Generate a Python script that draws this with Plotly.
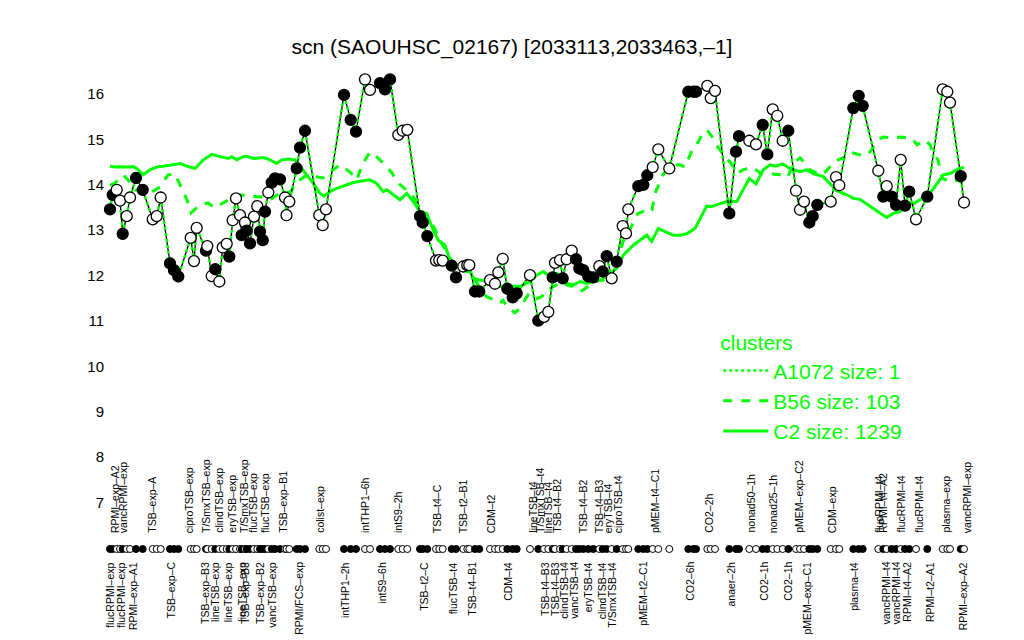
import plotly.graph_objects as go

# ---------------- data ----------------
title_text = "scn (SAOUHSC_02167) [2033113,2033463,–1]"

sample_pos = [10, 12.7, 16.7, 20, 22.7, 26.7, 30, 36, 42.7, 52.7, 56.7, 60.7, 70, 74, 78.3,
              90.7, 94, 96.7, 106, 107.3, 111.7, 115.3, 119.3, 122.7, 126.7, 129.3, 132.7, 136,
              140, 141.7, 145, 146.7, 150, 154, 157.3, 160, 162.7, 165, 168.3, 171.7, 175, 180,
              185, 186.5, 189.3, 196.7, 200, 205, 219.3, 222.7, 226, 244, 250.7, 256, 265, 270,
              280, 285, 290, 298.3, 302.7, 307.3, 320, 322.7, 327.3, 336, 339.3, 342.7, 351.7,
              356, 363.3, 367.3, 369.3, 375, 379.3, 390, 395, 398.3, 402.7, 407.3, 412.7, 416.7,
              430, 438.3, 444, 448.3, 452.7, 455, 460, 462.7, 466.7, 471.7, 476, 479.3, 483.3,
              488.3, 493.3, 499.3, 502.7, 506.7, 511.7, 516.7, 522.7, 526, 528.3, 538.3, 543.3,
              547.3, 552.7, 558.3, 569.3, 588.3, 593.3, 596, 607.3, 610.7, 615, 629.3, 636, 639,
              649.3, 656, 662.7, 667.3, 672.7, 677.3, 682.7, 688.3, 696, 700, 704, 709.3, 712.7,
              717.3, 730.7, 736, 739.3, 753.3, 758.7, 762.7, 778.3, 783.3, 786.7, 791.7, 796,
              800.7, 805, 809.3, 816, 827.3, 842.7, 847.3, 850, 860.7, 864]

expr = [13.46, 13.78, 13.89, 13.65, 12.92, 13.31, 13.72, 14.15, 13.89, 13.24, 13.31, 13.72,
        12.27, 12.12, 11.98, 12.83, 12.32, 13.05, 12.55, 12.65, 11.99, 12.14, 11.87, 12.62,
        12.70, 12.42, 13.22, 13.70, 13.33, 12.89, 13.17, 12.99, 12.71, 13.30, 13.53, 12.97,
        12.78, 13.41, 13.83, 14.05, 14.14, 14.12, 13.72, 13.33, 13.63, 14.36, 14.82, 15.19,
        13.33, 13.11, 13.46, 15.98, 15.43, 15.17, 16.32, 16.09, 16.24, 16.10, 16.32, 15.10,
        15.19, 15.21, 13.31, 13.17, 12.87, 12.33, 12.34, 12.33, 12.22, 11.96, 12.20, 12.23,
        12.23, 11.65, 11.65, 11.90, 11.82, 12.07, 12.37, 11.71, 11.52, 11.61, 12.01, 11.01,
        11.09, 11.20, 11.96, 12.28, 12.34, 11.94, 12.36, 12.55, 12.36, 12.16, 12.12, 11.98,
        11.96, 12.21, 12.09, 12.43, 11.94, 12.31, 13.09, 12.93, 13.46, 13.97, 14.00, 14.21,
        14.39, 14.78, 14.36, 16.05, 16.05, 16.05, 16.18, 15.91, 16.07, 13.37, 14.73, 15.07,
        14.97, 14.89, 15.32, 14.67, 15.66, 15.52, 14.97, 15.19, 13.87, 13.45, 13.63, 13.17,
        13.31, 13.56, 13.63, 14.17, 13.99, 15.69, 15.96, 15.74, 14.31, 13.74, 13.97, 13.74,
        13.56, 14.55, 13.54, 13.85, 13.24, 13.74, 16.10, 16.05, 15.81, 14.19, 13.61]

filled = [1, 1, 0, 0, 1, 0, 0, 1, 1, 0, 0, 0, 1, 1, 1, 0, 0, 0, 1, 0, 0, 1, 0, 0, 0, 1, 0, 0,
          0, 1, 0, 1, 1, 0, 0, 1, 1, 1, 0, 1, 1, 1, 0, 0, 0, 1, 1, 1, 0, 0, 0, 1, 1, 1, 0, 0,
          1, 1, 1, 0, 0, 0, 1, 1, 1, 0, 0, 0, 1, 1, 0, 0, 0, 1, 1, 0, 0, 0, 0, 1, 1, 1, 0, 1,
          0, 0, 1, 0, 0, 1, 0, 0, 1, 1, 1, 1, 1, 0, 1, 1, 0, 1, 0, 0, 0, 1, 1, 1, 0, 0, 0, 1,
          1, 1, 0, 0, 0, 1, 1, 1, 0, 0, 1, 1, 0, 0, 0, 1, 0, 0, 0, 1, 1, 1, 0, 0, 0, 1, 1, 1,
          0, 1, 0, 1, 1, 0, 1, 1, 0, 1, 0, 0, 0, 1, 0]

c2_pos = [10, 15, 20, 26.7, 33.3, 36.7, 43.3, 50, 53.3, 58.3, 63.3, 70, 80, 86.7, 95, 103.3,
          111.7, 120, 128.3, 131.7, 136.7, 143.3, 146.7, 153.3, 163.3, 170, 176.7, 181.7,
          188.3, 195, 200, 206.7, 213.3, 220, 224, 230, 236.7, 246.7, 253.3, 263.3, 270,
          276.7, 283.3, 286.7, 293.3, 300, 306.7, 313.3, 320, 326.7, 333.3, 338.3, 345, 350,
          355, 368.3, 373.3, 380, 390, 400, 411.7, 420, 430, 436.7, 443.3, 450, 456.7, 462.7,
          466.7, 473.3, 480, 486.7, 493.3, 500, 510, 516.7, 523.3, 533.3, 540, 546.7, 551.7,
          558.3, 565, 573.3, 580, 586.7, 595, 606.7, 611.7, 626.7, 636.7, 649.3, 656, 663.3,
          670, 676, 682.7, 690, 700, 706.7, 714, 723.3, 736.7, 746.7, 753.3, 760, 773.3,
          786.7, 793.3, 800, 806.7, 813.3, 820, 830, 843.3, 850, 856.7, 864]
c2_val = [14.41, 14.39, 14.40, 14.39, 14.40, 14.36, 14.22, 14.33, 14.36, 14.40, 14.41, 14.44,
          14.47, 14.41, 14.36, 14.55, 14.67, 14.62, 14.58, 14.62, 14.55, 14.62, 14.63, 14.58,
          14.60, 14.55, 14.47, 14.55, 14.57, 14.55, 14.40, 14.22, 14.03, 13.81, 13.75, 13.85,
          13.92, 14.00, 14.05, 14.09, 14.11, 14.03, 13.85, 13.89, 13.78, 13.67, 13.81, 13.63,
          13.41, 13.37, 13.00, 12.78, 12.67, 12.34, 12.21, 12.20, 11.94, 11.90, 11.90, 11.76,
          11.77, 11.76, 11.87, 12.01, 12.09, 11.98, 12.05, 11.98, 11.83, 11.79, 11.87, 11.83,
          11.87, 11.90, 12.05, 12.16, 12.45, 12.67, 12.78, 12.89, 12.75, 13.04, 12.97, 12.89,
          12.89, 12.92, 13.04, 13.53, 13.52, 13.63, 13.63, 14.14, 14.02, 14.33, 14.44, 14.41,
          14.46, 14.36, 14.29, 14.33, 14.24, 14.18, 13.87, 13.78, 13.70, 13.68, 13.48, 13.28,
          13.37, 13.41, 13.59, 13.58, 13.67, 13.81, 14.22, 14.25, 14.33, 14.39]

b56_pos = [10, 15, 23, 28, 35, 50, 60, 68, 75, 80, 87, 91, 100, 108, 115, 123, 133, 140, 150,
           163, 170, 180, 190, 200, 205, 213, 223, 233, 240, 250, 257, 262, 270, 277, 285, 292,
           298, 303, 312, 325, 333, 340, 350, 360, 370, 383, 387, 395, 400, 403, 407, 415, 418,
           428, 433, 442, 445, 462, 467, 473, 480, 483, 493, 500, 503, 507, 513, 517, 523, 527,
           538, 543, 548, 552, 555, 558, 563, 567, 577, 580, 585, 593, 598, 602, 607, 613, 618,
           625, 630, 638, 643, 653, 660, 683, 688, 693, 700, 705, 710, 718, 723, 733, 738, 745,
           750, 760, 768, 778, 783, 793, 800, 812, 817, 825, 830, 833, 838, 842, 850, 853, 858,
           864]
b56_val = [13.99, 14.04, 14.22, 14.11, 13.89, 13.82, 13.95, 14.22, 14.24, 13.99, 13.67, 13.38,
           13.56, 13.60, 13.49, 13.60, 13.73, 13.78, 13.75, 13.73, 13.67, 13.82, 13.84, 14.11,
           14.19, 14.19, 14.15, 14.33, 14.44, 14.28, 14.11, 14.44, 14.72, 14.61, 14.44, 14.26,
           14.04, 13.95, 13.78, 13.33, 13.11, 12.78, 12.39, 12.12, 12.08, 11.62, 11.53, 11.46,
           11.39, 11.46, 11.31, 11.18, 11.24, 11.57, 11.46, 11.54, 11.65, 11.87, 11.79, 11.76,
           11.65, 11.68, 11.84, 11.90, 11.90, 11.79, 12.16, 12.27, 12.75, 12.89, 13.37, 13.41,
           13.37, 13.44, 13.81, 13.96, 14.22, 14.33, 14.44, 14.44, 14.39, 14.81, 14.94, 15.10,
           15.21, 15.03, 14.83, 14.61, 14.50, 14.26, 14.33, 14.39, 14.26, 14.22, 14.17, 14.48,
           14.59, 14.48, 14.33, 14.25, 14.22, 14.48, 14.55, 14.61, 14.72, 14.66, 14.66, 14.99,
           15.05, 15.03, 15.05, 15.03, 14.88, 14.99, 14.88, 14.70, 14.55, 14.15, 14.06, 14.06,
           14.11, 14.00]

top_label_pos = [15, 22.7, 51.7, 89.3, 106, 118.3, 131.7, 144, 152.7, 165, 182.7, 219.3, 265,
                 298, 336.7, 363.3, 390.7, 432.7, 440, 448.3, 456.7, 483.3, 499.3, 508.3,
                 518.3, 555, 608.3, 650, 672.7, 698.3, 731.7, 778.3, 782.7, 800, 818.3, 845,
                 866.7]
top_labels = ["RPMI–exp–A2", "vancRPMI–exp", "TSB–exp–A", "ciproTSB–exp", "T/SmxTSB–exp",
              "clindTSB–exp", "eryTSB–exp", "T/SmxTSB–exp", "flucTSB–exp", "flucTSB–exp",
              "TSB–exp–B1", "colist–exp", "intTHP1–6h", "intS9–2h", "TSB–t4–C", "TSB–t2–B1",
              "CDM–t2", "lineTSB–t4", "T/SmxTSB–t4", "lineTSB–t4", "TSB–t4–B2", "TSB–t4–B2",
              "TSB–t4–B3", "eryTSB–t4", "ciproTSB–t4", "pMEM–t4–C1", "CO2–2h", "nonad50–1h",
              "nonad25–1h", "pMEM–exp–C2", "CDM–exp", "flucRPMI–t4", "RPMI–t4–A2",
              "flucRPMI–t4", "flucRPMI–t4", "plasma–exp", "vancRPMI–exp"]

bottom_label_pos = [10, 21, 33, 70, 105, 115, 128.3, 141.7, 145, 160, 171.7, 198.3, 245,
                    281.7, 323.3, 353.3, 371.7, 407.3, 445, 455, 463.3, 473.3, 488.3, 501.7,
                    511.7, 542.7, 589.3, 630, 663.3, 687.3, 706, 753.3, 785, 795, 806.7, 830,
                    863.3]
bottom_labels = ["flucRPMI–exp", "flucRPMI–exp", "RPMI–exp–A1", "TSB–exp–C", "TSB–exp–B3",
                 "lineTSB–exp", "lineTSB–exp", "lineTSB–exp", "TSB–exp–B3", "TSB–exp–B2",
                 "vancTSB–exp", "RPMI/FCS–exp", "intTHP1–2h", "intS9–6h", "TSB–t2–C",
                 "flucTSB–t4", "TSB–t4–B1", "CDM–t4", "TSB–t4–B3", "TSB–t4–B3", "clindTSB–t4",
                 "vancTSB–t4", "eryTSB–t4", "clindTSB–t4", "T/SmxTSB–t4", "pMEM–t2–C1",
                 "CO2–6h", "anaer–2h", "CO2–1h", "CO2–1h", "pMEM–exp–C1", "plasma–t4",
                 "vancRPMI–t4", "vancRPMI–t4", "RPMI–t4–A2", "RPMI–t2–A1", "RPMI–exp–A2"]

y_ticks = [7, 8, 9, 10, 11, 12, 13, 14, 15, 16]
cluster_names = ["A1072 size: 1", "B56 size: 103", "C2 size: 1239"]

# ---------------- styles ----------------
GREEN = "#00FF00"
FONT = "Liberation Sans, Arial, Helvetica, sans-serif"
OFF = 8                       # default page margin of the html body
W, H = 1024 - OFF, 640 - OFF  # figure size that fits the visible window


def py(screen_y):
    """paper y for a screen pixel row"""
    return 1 - (screen_y - OFF) / H


def px(screen_x):
    return (screen_x - OFF) / W


PLOT_L, PLOT_R = 105, 990      # screen columns of the plotting area
X0 = 5                          # data position at the left edge
Y_TOP, Y_BOT = 70, 510          # screen rows of the main panel
VAL_AT = (94, 16.0)             # row of value 16
PX_PER_UNIT = 45.4

fill_colors = ["black" if f else "white" for f in filled]

fig = go.Figure()

fig.add_trace(go.Scatter(x=c2_pos, y=c2_val, mode="lines", name=cluster_names[2],
                         line=dict(color=GREEN, width=3), legendrank=3))
fig.add_trace(go.Scatter(x=b56_pos, y=b56_val, mode="lines", name=cluster_names[1],
                         line=dict(color=GREEN, width=3, dash="dash"), legendrank=2))
fig.add_trace(go.Scatter(x=sample_pos, y=expr, mode="lines", showlegend=False,
                         line=dict(color="black", width=1.3)))
fig.add_trace(go.Scatter(x=sample_pos, y=expr, mode="lines", name=cluster_names[0],
                         line=dict(color=GREEN, width=2.5, dash="dot"), legendrank=1))
fig.add_trace(go.Scatter(x=sample_pos, y=expr, mode="markers", showlegend=False,
                         cliponaxis=False,
                         marker=dict(size=11, color=fill_colors,
                                     line=dict(color="black", width=1.3))))
fig.add_trace(go.Scatter(x=sample_pos, y=[0] * len(sample_pos), mode="markers",
                         showlegend=False, yaxis="y2", cliponaxis=False,
                         marker=dict(size=7, color=fill_colors,
                                     line=dict(color="black", width=1))))

annotations = []
for p, t in zip(top_label_pos, top_labels):
    annotations.append(dict(x=p, y=py(535), xref="x", yref="paper", text=t, textangle=-90,
                            showarrow=False, xanchor="center", yanchor="bottom",
                            font=dict(family=FONT, size=10.5, color="black")))
for p, t in zip(bottom_label_pos, bottom_labels):
    annotations.append(dict(x=p, y=py(560), xref="x", yref="paper", text=t, textangle=-90,
                            showarrow=False, xanchor="center", yanchor="top",
                            font=dict(family=FONT, size=10.5, color="black")))

y_lo = VAL_AT[1] - (Y_BOT - VAL_AT[0]) / PX_PER_UNIT
y_hi = VAL_AT[1] + (VAL_AT[0] - Y_TOP) / PX_PER_UNIT

fig.update_layout(
    width=W, height=H,
    margin=dict(l=PLOT_L - OFF, r=W - (PLOT_R - OFF), t=0, b=0),
    paper_bgcolor="white", plot_bgcolor="white",
    font=dict(family=FONT, color="black"),
    title=dict(text=title_text, x=0.5 - OFF / 2 / W, xanchor="center", y=py(47),
               yanchor="middle", yref="container",
               font=dict(family=FONT, size=21, color="black")),
    xaxis=dict(range=[X0, X0 + (PLOT_R - PLOT_L)], visible=False, fixedrange=True),
    yaxis=dict(domain=[py(Y_BOT), py(Y_TOP)], range=[y_lo, y_hi],
               tickvals=y_ticks, ticktext=[str(v) for v in y_ticks], showgrid=False,
               zeroline=False, showline=False, ticks="",
               tickfont=dict(family=FONT, size=15, color="black")),
    yaxis2=dict(domain=[py(558), py(540)], range=[-1, 1], visible=False),
    showlegend=True,
    legend=dict(x=px(712), y=py(323), xanchor="left", yanchor="top",
                title=dict(text="clusters", font=dict(family=FONT, size=21, color=GREEN)),
                font=dict(family=FONT, size=21, color=GREEN), bgcolor="rgba(0,0,0,0)",
                itemwidth=45, tracegroupgap=0, traceorder="normal"),
    annotations=annotations,
)

fig.write_html("out.html")
